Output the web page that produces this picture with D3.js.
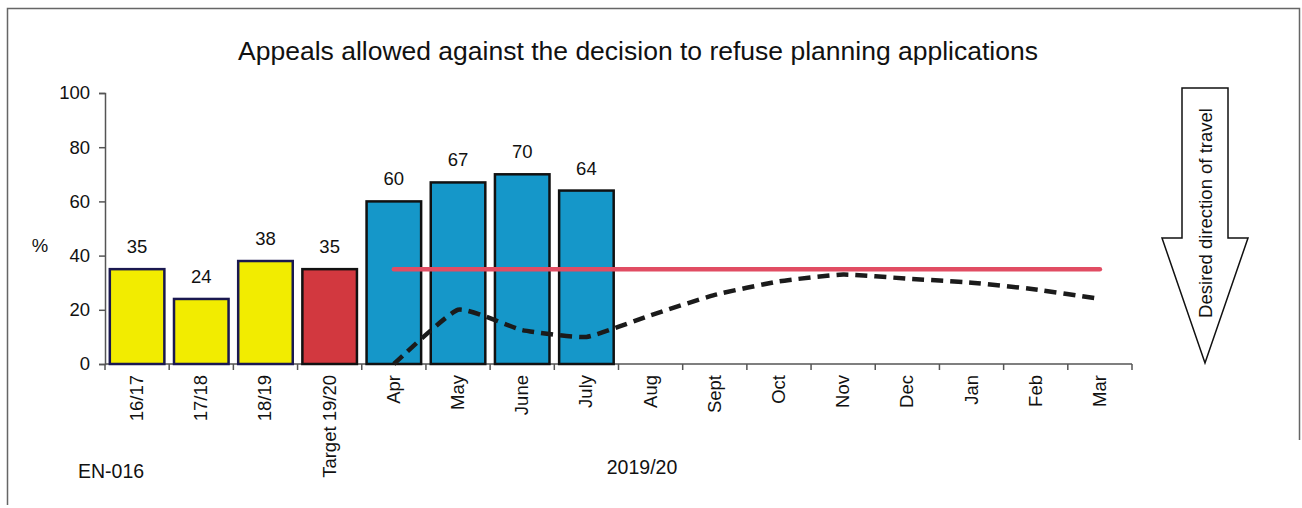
<!DOCTYPE html>
<html>
<head>
<script src="https://d3js.org/d3.v7.min.js"></script>
<style>
  body { margin: 0; background: #fff; }
  text { font-family: "Liberation Sans", Arial, sans-serif; fill: #111; }
</style>
</head>
<body>
<svg width="1302" height="508"></svg>
<script>
// categories along the x axis
var categories = ["16/17", "17/18", "18/19", "Target 19/20", "Apr", "May", "June", "July",
                  "Aug", "Sept", "Oct", "Nov", "Dec", "Jan", "Feb", "Mar"];
// bar values (null = no bar)
var barValues = [35, 24, 38, 35, 60, 67, 70, 64, null, null, null, null, null, null, null, null];
var barColours = ["#f2ec00", "#f2ec00", "#f2ec00", "#d2383f", "#1597c9", "#1597c9", "#1597c9", "#1597c9"];
// target line (Apr..Mar)
var targetMonths = ["Apr", "May", "June", "July", "Aug", "Sept", "Oct", "Nov", "Dec", "Jan", "Feb", "Mar"];
var targetValue = 35;
// dashed comparison line (Apr..Mar)
var trendValues = [0, 20, 12.5, 10, 18, 25.5, 30.5, 33, 31.5, 30, 27.5, 24];
var yTicks = [0, 20, 40, 60, 80, 100];

var svg = d3.select("svg");
var plotLeft = 105, plotRight = 1132, plotTop = 93, plotBottom = 364;

// frame
svg.append("path")
  .attr("d", "M7.5,505 L7.5,8.5 L1299.5,8.5 L1299.5,440")
  .attr("fill", "none").attr("stroke", "#666").attr("stroke-width", 1.5);

svg.append("text").attr("x", 638).attr("y", 60).attr("text-anchor", "middle")
  .style("font-size", "26.5px").text("Appeals allowed against the decision to refuse planning applications");

var x = d3.scaleBand().domain(categories).range([plotLeft, plotRight]).paddingInner(0.15).paddingOuter(0.075);
var y = d3.scaleLinear().domain([0, 100]).range([plotBottom, plotTop]);

// y axis
var yAxis = svg.append("g").attr("transform", "translate(" + plotLeft + ",0)")
  .call(d3.axisLeft(y).tickValues(yTicks).tickSize(6).tickPadding(9));
yAxis.select(".domain").attr("stroke", "#555").attr("stroke-width", 1.5);
yAxis.selectAll(".tick line").attr("stroke", "#555").attr("stroke-width", 1.5);
yAxis.selectAll("text").style("font-size", "18.5px").attr("fill", "#111");

// x axis with ticks between categories
var xAxis = svg.append("g").attr("transform", "translate(0," + plotBottom + ")");
xAxis.append("line").attr("x1", plotLeft).attr("x2", plotRight).attr("y1", 0).attr("y2", 0)
  .attr("stroke", "#555").attr("stroke-width", 1.5);
var n = categories.length;
xAxis.selectAll(".sep").data(d3.range(n + 1)).join("line")
  .attr("x1", function(i) { return plotLeft + i * (plotRight - plotLeft) / n; })
  .attr("x2", function(i) { return plotLeft + i * (plotRight - plotLeft) / n; })
  .attr("y1", 0).attr("y2", 6).attr("stroke", "#555").attr("stroke-width", 1.5);
xAxis.selectAll(".lab").data(categories).join("text")
  .attr("transform", function(d) {
    return "translate(" + (x(d) + x.bandwidth() / 2 + 6) + ",11) rotate(-90)";
  })
  .attr("text-anchor", "end").style("font-size", "18.5px").text(function(d) { return d; });

// bars
var barData = categories.map(function(c, i) { return {cat: c, v: barValues[i], col: barColours[i]}; })
  .filter(function(d) { return d.v != null; });
svg.selectAll(".bar").data(barData).join("rect")
  .attr("x", function(d) { return x(d.cat); })
  .attr("y", function(d) { return y(d.v); })
  .attr("width", x.bandwidth())
  .attr("height", function(d) { return y(0) - y(d.v); })
  .attr("fill", function(d) { return d.col; })
  .attr("stroke", function(d, i) { return i < 3 ? "#1a1850" : "#111"; })
  .attr("stroke-width", 2.5);

svg.selectAll(".val").data(barData).join("text")
  .attr("x", function(d) { return x(d.cat) + x.bandwidth() / 2; })
  .attr("y", function(d) { return y(d.v) - 16; })
  .attr("text-anchor", "middle").style("font-size", "18.5px")
  .text(function(d) { return Math.round(d.v); });

// target line
var cx = function(c) { return x(c) + x.bandwidth() / 2; };
svg.append("path")
  .attr("d", d3.line().x(function(d) { return cx(d); }).y(y(targetValue))(targetMonths))
  .attr("fill", "none").attr("stroke", "#e14d63").attr("stroke-width", 4.5)
  .attr("stroke-linecap", "round");

// dashed trend line
var trendLine = d3.line()
  .x(function(d, i) { return cx(targetMonths[i]); })
  .y(function(d) { return y(d); })
  .curve(d3.curveCardinal.tension(0.55));
svg.append("path")
  .attr("d", trendLine(trendValues))
  .attr("fill", "none").attr("stroke", "#1b1b1b").attr("stroke-width", 4.5)
  .attr("stroke-dasharray", "12,7");

// side labels
svg.append("text").attr("x", 40).attr("y", 252).attr("text-anchor", "middle")
  .style("font-size", "18.5px").text("%");
svg.append("text").attr("x", 78).attr("y", 478).style("font-size", "19.5px").text("EN-016");
svg.append("text").attr("x", 642).attr("y", 474).attr("text-anchor", "middle")
  .style("font-size", "19.5px").text("2019/20");

// desired direction arrow
var ax = 1205;
svg.append("path")
  .attr("d", "M" + (ax - 23) + ",88 L" + (ax + 23) + ",88 L" + (ax + 23) + ",238 L" + (ax + 43) + ",238 L" +
    ax + ",363 L" + (ax - 43) + ",238 L" + (ax - 23) + ",238 Z")
  .attr("fill", "#fff").attr("stroke", "#111").attr("stroke-width", 1.5);
svg.append("text")
  .attr("transform", "translate(" + (ax + 7) + ",213) rotate(-90)")
  .attr("text-anchor", "middle").style("font-size", "18.5px").text("Desired direction of travel");
</script>
</body>
</html>
